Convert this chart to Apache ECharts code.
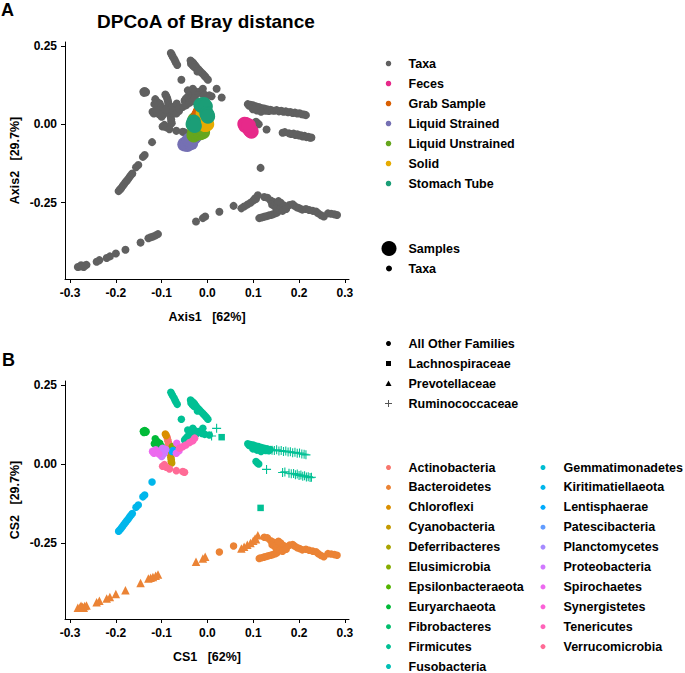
<!DOCTYPE html>
<html><head><meta charset="utf-8">
<script src="https://cdn.jsdelivr.net/npm/echarts@6/dist/echarts.min.js"></script>
<style>html,body{margin:0;padding:0;background:#fff}#chart{width:685px;height:673px}</style>
</head><body><div id="chart"></div>
<script>
// ---------------- DATA ----------------
const xTicks = [-0.3, -0.2, -0.1, 0.0, 0.1, 0.2, 0.3];
const yTicks = [-0.25, 0.0, 0.25];

const sampleTypes = ['Feces', 'Grab Sample', 'Liquid Strained', 'Liquid Unstrained', 'Solid', 'Stomach Tube'];
const familyNames = ['All Other Families', 'Lachnospiraceae', 'Prevotellaceae', 'Ruminococcaceae'];
const phylumNames = ['Actinobacteria', 'Bacteroidetes', 'Chloroflexi', 'Cyanobacteria', 'Deferribacteres',
  'Elusimicrobia', 'Epsilonbacteraeota', 'Euryarchaeota', 'Fibrobacteres', 'Firmicutes', 'Fusobacteria',
  'Gemmatimonadetes', 'Kiritimatiellaeota', 'Lentisphaerae', 'Patescibacteria', 'Planctomycetes',
  'Proteobacteria', 'Spirochaetes', 'Synergistetes', 'Tenericutes', 'Verrucomicrobia'];

// Sample scores (panel A)
const fecesPoints = [[0.081,0.001],[0.084,0.000],[0.086,-0.004],[0.088,-0.008],[0.090,-0.012],[0.092,-0.016],[0.094,-0.020],[0.096,-0.023],[0.083,-0.005],[0.090,-0.004]];
const liquidStrainedPoints = [[-0.050,-0.064],[-0.046,-0.061],[-0.042,-0.057],[-0.038,-0.053],[-0.034,-0.048],[-0.030,-0.043],[-0.027,-0.038],[-0.044,-0.065],[-0.036,-0.060],[-0.040,-0.050]];
const liquidUnstrainedPoints = [[-0.030,-0.035],[-0.025,-0.030],[-0.020,-0.028],[-0.015,-0.028],[-0.010,-0.025],[-0.028,-0.020],[-0.022,-0.015],[-0.015,-0.012],[-0.030,-0.005],[-0.026,0.005],[-0.028,0.015],[-0.022,0.022]];
const grabSamplePoints = [[-0.016,0.040],[-0.014,0.046],[-0.012,0.050],[-0.018,0.034],[-0.020,0.028],[-0.010,0.052]];
const solidPoints = [[-0.006,0.030],[-0.004,0.022],[-0.003,0.014],[-0.004,0.006],[-0.005,-0.002],[-0.008,0.010],[-0.010,0.020],[-0.001,0.000],[-0.010,0.035]];
const stomachTubePoints = [[-0.015,0.062],[-0.008,0.064],[-0.012,0.058],[-0.004,0.057],[-0.030,0.008],[-0.032,0.000],[-0.028,-0.005],[-0.002,0.035],[0.000,0.030],[0.001,0.025]];

// Taxa scores, by phylum and family
const actinobacteriaOther = [[-0.088,0.084],[-0.087,0.078],[-0.086,0.072],[-0.085,0.066],[-0.084,0.060]];
const bacteroidetesOther = [[0.026,-0.279],[0.057,-0.260],[0.124,-0.232],[0.131,-0.234],
  [0.113,-0.299],[0.118,-0.297],[0.123,-0.295],[0.128,-0.293],[0.133,-0.291],[0.138,-0.289],[0.143,-0.287],[0.148,-0.284],[0.152,-0.281],
  [0.138,-0.243],[0.143,-0.247],[0.148,-0.250],[0.141,-0.256],[0.146,-0.260],[0.152,-0.255],[0.156,-0.262],[0.150,-0.268],[0.158,-0.272],
  [0.162,-0.265],[0.166,-0.258],[0.170,-0.262],[0.160,-0.250],[0.155,-0.245],[0.164,-0.276],[0.172,-0.270],
  [0.179,-0.257],[0.186,-0.255],[0.190,-0.260],[0.196,-0.265],[0.201,-0.268],[0.207,-0.272],[0.215,-0.270],[0.222,-0.273],
  [0.230,-0.276],[0.237,-0.278],[0.242,-0.284],[0.248,-0.290],[0.254,-0.294],[0.263,-0.284],[0.270,-0.285],[0.277,-0.287],[0.283,-0.289]];
const bacteroidetesPrevotellaceae = [[-0.283,-0.455],[-0.278,-0.453],[-0.273,-0.452],[-0.268,-0.450],[-0.264,-0.448],[-0.270,-0.455],[-0.276,-0.449],
  [-0.242,-0.438],[-0.236,-0.433],[-0.220,-0.426],[-0.213,-0.421],[-0.200,-0.412],[-0.179,-0.400],[-0.146,-0.377],
  [-0.129,-0.363],[-0.124,-0.360],[-0.119,-0.358],[-0.113,-0.354],[-0.108,-0.350],
  [-0.025,-0.310],[-0.010,-0.299],[-0.005,-0.294],
  [0.074,-0.268],[0.080,-0.262],[0.087,-0.256],[0.094,-0.250],[0.100,-0.243],[0.104,-0.236],[0.106,-0.238],[0.110,-0.226]];
const chloroflexiOther = [[-0.092,0.095],[-0.090,0.090]];
const cyanobacteriaOther = [[-0.080,0.035],[-0.080,0.028],[-0.080,0.021],[-0.079,0.014],[-0.079,0.008],[-0.078,0.003]];
const elusimicrobiaOther = [[-0.077,0.055],[-0.076,0.050]];
const euryarchaeotaOther = [[-0.140,0.104],[-0.137,0.106],[-0.134,0.103],[-0.139,0.100],[-0.135,0.101],
  [-0.114,0.080],[-0.116,0.064],[-0.110,0.072],[-0.104,0.066],[-0.107,0.060],[-0.100,0.055]];
const firmicutesOther = [[-0.080,0.227],[-0.078,0.222],[-0.076,0.216],[-0.073,0.209],[-0.071,0.203],[-0.069,0.197],[-0.066,0.189],
  [-0.057,0.142],
  [-0.037,0.203],[-0.034,0.199],[-0.031,0.195],[-0.036,0.193],[-0.033,0.188],[-0.028,0.190],[-0.025,0.184],[-0.029,0.182],
  [-0.021,0.177],[-0.018,0.172],[-0.015,0.167],[-0.011,0.162],[-0.008,0.157],[-0.005,0.152],[-0.002,0.147],[0.001,0.142],[-0.022,0.168],
  [-0.050,0.076],[-0.047,0.082],[-0.043,0.088],[-0.039,0.079],[-0.036,0.087],[-0.033,0.094],[-0.030,0.100],[-0.043,0.108],
  [-0.032,0.113],[-0.027,0.105],[-0.022,0.100],[-0.017,0.104],[-0.010,0.113],[-0.012,0.097],[-0.006,0.094],[0.004,0.092],[-0.026,0.093],
  [0.088,0.064],[0.091,0.059],[0.094,0.062],[0.097,0.056],[0.100,0.060],[0.103,0.053],[0.106,0.057],[0.109,0.050],[0.112,0.055],
  [0.115,0.047],[0.118,0.052],[0.121,0.045],[0.124,0.050],[0.127,0.043],[0.130,0.048],[0.134,0.042],[0.137,0.046],
  [0.099,0.048],[0.108,0.044],[0.117,0.040],
  [0.106,0.008],[0.109,0.003],[0.112,0.000]];
const firmicutesLachnospiraceae = [[0.031,0.085],[0.116,-0.139]];
const firmicutesRuminococcaceae = [[0.020,0.113],[0.009,0.089],
  [0.141,0.044],[0.146,0.043],[0.151,0.045],[0.156,0.041],[0.161,0.043],[0.166,0.040],[0.171,0.041],[0.176,0.038],[0.181,0.039],
  [0.186,0.036],[0.191,0.037],[0.196,0.034],[0.201,0.035],[0.206,0.032],[0.211,0.031],[0.215,0.029],
  [0.129,-0.017],[0.164,-0.027],[0.169,-0.025],[0.178,-0.029],[0.183,-0.031],[0.188,-0.030],[0.192,-0.034],[0.196,-0.032],
  [0.200,-0.036],[0.204,-0.035],[0.208,-0.039],[0.212,-0.037],[0.216,-0.041],[0.220,-0.040],[0.224,-0.043],[0.227,-0.042]];
const kiritimatiellaeotaOther = [[-0.194,-0.213],[-0.191,-0.208],[-0.188,-0.203],[-0.185,-0.197],[-0.182,-0.191],[-0.179,-0.185],
  [-0.176,-0.180],[-0.173,-0.174],[-0.170,-0.168],[-0.167,-0.162],[-0.164,-0.157],[-0.156,-0.137],[-0.151,-0.130],
  [-0.141,-0.104],[-0.137,-0.098],[-0.121,-0.057]];
const lentisphaeraeOther = [[-0.077,0.040],[-0.075,0.043]];
const proteobacteriaOther = [[-0.100,0.024],[-0.097,0.030],[-0.094,0.035],[-0.104,0.040],[-0.095,0.042],[-0.098,0.050],[-0.091,0.046]];
const spirochaetesOther = [[-0.120,0.040],[-0.115,0.038],[-0.110,0.037],[-0.117,0.034],[-0.113,0.045],[-0.106,0.032],[-0.068,0.034],[-0.067,0.066],[-0.062,0.042]];
const tenericutesOther = [[-0.061,0.050],[-0.054,0.055],[-0.047,0.060],[-0.039,0.068],[-0.032,0.074],[-0.028,0.082]];
const verrucomicrobiaOther = [[-0.098,-0.007],[-0.094,-0.002],[-0.090,-0.010],[-0.083,-0.016],[-0.068,-0.021],[-0.054,-0.024],[-0.050,-0.026]];

// ---------------- BUILD ----------------
const taxaGroups = [
  ['Actinobacteria', 'All Other Families', actinobacteriaOther],
  ['Bacteroidetes', 'All Other Families', bacteroidetesOther],
  ['Bacteroidetes', 'Prevotellaceae', bacteroidetesPrevotellaceae],
  ['Chloroflexi', 'All Other Families', chloroflexiOther],
  ['Cyanobacteria', 'All Other Families', cyanobacteriaOther],
  ['Elusimicrobia', 'All Other Families', elusimicrobiaOther],
  ['Euryarchaeota', 'All Other Families', euryarchaeotaOther],
  ['Firmicutes', 'All Other Families', firmicutesOther],
  ['Firmicutes', 'Lachnospiraceae', firmicutesLachnospiraceae],
  ['Firmicutes', 'Ruminococcaceae', firmicutesRuminococcaceae],
  ['Kiritimatiellaeota', 'All Other Families', kiritimatiellaeotaOther],
  ['Lentisphaerae', 'All Other Families', lentisphaeraeOther],
  ['Proteobacteria', 'All Other Families', proteobacteriaOther],
  ['Spirochaetes', 'All Other Families', spirochaetesOther],
  ['Tenericutes', 'All Other Families', tenericutesOther],
  ['Verrucomicrobia', 'All Other Families', verrucomicrobiaOther]
];
const samplePointSets = {
  'Feces': fecesPoints, 'Liquid Strained': liquidStrainedPoints, 'Liquid Unstrained': liquidUnstrainedPoints,
  'Grab Sample': grabSamplePoints, 'Solid': solidPoints, 'Stomach Tube': stomachTubePoints
};
const sampleDrawOrder = ['Feces', 'Liquid Strained', 'Liquid Unstrained', 'Grab Sample', 'Solid', 'Stomach Tube'];

// ggplot2-like hue palette (HCL, c=100, l=65)
function hclColor(h, c, l) {
  const rad = h * Math.PI / 180;
  const U = c * Math.cos(rad), V = c * Math.sin(rad);
  const Xn = 95.047, Yn = 100.0, Zn = 108.883;
  const den = Xn + 15 * Yn + 3 * Zn;
  const un = 4 * Xn / den, vn = 9 * Yn / den;
  const Y = l > 7.999592 ? Yn * Math.pow((l + 16) / 116, 3) : Yn * l / 903.3;
  const u = U / (13 * l) + un, v = V / (13 * l) + vn;
  const X = 9 * Y * u / (4 * v);
  const Z = -X / 3 - 5 * Y + 3 * Y / v;
  const x = X / 100, y = Y / 100, z = Z / 100;
  const r = 3.240479 * x - 1.537150 * y - 0.498535 * z;
  const g = -0.969256 * x + 1.875992 * y + 0.041556 * z;
  const b = 0.055648 * x - 0.204043 * y + 1.057311 * z;
  const gam = t => { t = t <= 0.0031308 ? 12.92 * t : 1.055 * Math.pow(t, 1 / 2.4) - 0.055;
    return Math.round(Math.max(0, Math.min(1, t)) * 255); };
  return '#' + [r, g, b].map(t => gam(t).toString(16).padStart(2, '0')).join('');
}
const phylumColor = {};
phylumNames.forEach((p, i) => { phylumColor[p] = hclColor(15 + i * 360 / phylumNames.length, 100, 65); });

const sampleColor = { 'Feces': '#E7298A', 'Grab Sample': '#D95F02', 'Liquid Strained': '#7570B3',
  'Liquid Unstrained': '#66A61E', 'Solid': '#E6AB02', 'Stomach Tube': '#1B9E77' };
const taxaGrey = '#606060';
const plusPath = 'path://M4.4,0H5.6V4.4H10V5.6H5.6V10H4.4V5.6H0V4.4H4.4Z';
const familySymbol = { 'All Other Families': 'circle', 'Lachnospiraceae': 'rect', 'Prevotellaceae': 'triangle', 'Ruminococcaceae': plusPath };
const familySize = { 'All Other Families': 7.5, 'Lachnospiraceae': 6.5, 'Prevotellaceae': 8.5, 'Ruminococcaceae': 9 };

const FONT = '"Liberation Sans", Arial, Helvetica, sans-serif';

function xAxisCfg(gridIndex, name) {
  return {
    type: 'value', gridIndex, min: -0.311, max: 0.309,
    name, nameLocation: 'middle', nameGap: 31,
    nameTextStyle: { color: '#000', fontSize: 12.5, fontWeight: 'bold', fontFamily: FONT },
    axisLine: { show: true, onZero: false, lineStyle: { color: '#000', width: 1 } },
    axisTick: { show: true, length: 4, customValues: xTicks, lineStyle: { color: '#000', width: 1 } },
    axisLabel: { customValues: xTicks, formatter: v => v.toFixed(1), color: '#000', fontSize: 12, fontWeight: 'bold', fontFamily: FONT, margin: 8 },
    splitLine: { show: false }
  };
}
function yAxisCfg(gridIndex, name, min, max) {
  return {
    type: 'value', gridIndex, min, max,
    name, nameLocation: 'middle', nameGap: 44,
    nameTextStyle: { color: '#000', fontSize: 12.5, fontWeight: 'bold', fontFamily: FONT },
    axisLine: { show: true, onZero: false, lineStyle: { color: '#000', width: 1 } },
    axisTick: { show: true, length: 4, customValues: yTicks, lineStyle: { color: '#000', width: 1 } },
    axisLabel: { customValues: yTicks, formatter: v => v.toFixed(2), color: '#000', fontSize: 12, fontWeight: 'bold', fontFamily: FONT, margin: 8 },
    splitLine: { show: false }
  };
}

const series = [];
// Panel A: taxa in grey
series.push({ type: 'scatter', name: 'Taxa', xAxisIndex: 0, yAxisIndex: 0, silent: true,
  data: [].concat(...taxaGroups.map(g => g[2])), symbol: 'circle', symbolSize: 8,
  itemStyle: { color: taxaGrey, opacity: 1 } });
// Panel A: samples
sampleDrawOrder.forEach(s => series.push({ type: 'scatter', name: s, xAxisIndex: 0, yAxisIndex: 0, silent: true,
  data: samplePointSets[s], symbol: 'circle', symbolSize: 14.5, itemStyle: { color: sampleColor[s], opacity: 1 } }));
// Panel B: taxa by phylum / family
taxaGroups.forEach(([ph, fam, pts]) => series.push({ type: 'scatter', name: ph + ' ' + fam, xAxisIndex: 1, yAxisIndex: 1, silent: true,
  data: pts, symbol: familySymbol[fam], symbolSize: familySize[fam], itemStyle: { color: phylumColor[ph], opacity: 1 } }));

// ---------------- LEGENDS (graphic) ----------------
const graphics = [];
function gText(x, y, text, size) {
  graphics.push({ type: 'text', silent: true, style: { x, y, text, fill: '#000', fontSize: size || 12.5, fontWeight: 'bold', fontFamily: FONT, verticalAlign: 'middle', align: 'left' } });
}
function gSymbol(kind, cx, cy, s, color) {
  if (kind === 'circle') graphics.push({ type: 'circle', silent: true, shape: { cx, cy, r: s / 2 }, style: { fill: color } });
  else if (kind === 'rect') graphics.push({ type: 'rect', silent: true, shape: { x: cx - s / 2, y: cy - s / 2, width: s, height: s }, style: { fill: color } });
  else if (kind === 'triangle') graphics.push({ type: 'polygon', silent: true, shape: { points: [[cx, cy - s / 2], [cx + s / 2, cy + s / 2 - 0.5], [cx - s / 2, cy + s / 2 - 0.5]] }, style: { fill: color } });
  else graphics.push({ type: 'polyline', silent: true, shape: { points: [[cx - s / 2, cy], [cx + s / 2, cy]] }, style: { stroke: color, lineWidth: 1 } },
                     { type: 'polyline', silent: true, shape: { points: [[cx, cy - s / 2], [cx, cy + s / 2]] }, style: { stroke: color, lineWidth: 1 } });
}
// Panel labels
gText(1, 10, 'A', 18);
gText(2, 360, 'B', 18);
// Legend A: colour
['Taxa'].concat(sampleTypes).forEach((n, i) => {
  gSymbol('circle', 388.5, 63.5 + 20 * i, 5.5, n === 'Taxa' ? taxaGrey : sampleColor[n]);
  gText(408.5, 63.5 + 20 * i, n);
});
// Legend A: size
gSymbol('circle', 389, 248.5, 15, '#000'); gText(408.5, 248.5, 'Samples');
gSymbol('circle', 389, 268.5, 6, '#000'); gText(408.5, 268.5, 'Taxa');
// Legend B: shape
const familyLegendKind = { 'All Other Families': 'circle', 'Lachnospiraceae': 'rect', 'Prevotellaceae': 'triangle', 'Ruminococcaceae': 'plus' };
const familyLegendSize = { 'All Other Families': 5, 'Lachnospiraceae': 5, 'Prevotellaceae': 6, 'Ruminococcaceae': 7 };
familyNames.forEach((f, i) => {
  gSymbol(familyLegendKind[f], 388.5, 343.5 + 20 * i, familyLegendSize[f], f === 'Ruminococcaceae' ? '#555' : '#000');
  gText(408.5, 343.5 + 20 * i, f);
});
// Legend B: colour (two columns)
phylumNames.forEach((p, i) => {
  const col = i < 11 ? 0 : 1, row = i < 11 ? i : i - 11;
  const sx = col === 0 ? 388.5 : 543, tx = col === 0 ? 408.5 : 563.5;
  gSymbol('circle', sx, 467.5 + 19.9 * row, 5, phylumColor[p]);
  gText(tx, 467.5 + 19.9 * row, p);
});

const option = {
  animation: false,
  backgroundColor: '#fff',
  textStyle: { fontFamily: FONT },
  title: { text: 'DPCoA of Bray distance', left: 97, top: 12, padding: 0,
    textStyle: { color: '#000', fontSize: 19, fontWeight: 'bold', fontFamily: FONT } },
  grid: [
    { left: 65, top: 42, width: 284, height: 237 },
    { left: 65, top: 381, width: 284, height: 238 }
  ],
  xAxis: [xAxisCfg(0, 'Axis1   [62%]'), xAxisCfg(1, 'CS1   [62%]')],
  yAxis: [yAxisCfg(0, 'Axis2   [29.7%]', -0.493, 0.262), yAxisCfg(1, 'CS2   [29.7%]', -0.491, 0.263)],
  series,
  graphic: graphics
};
const chart = echarts.init(document.getElementById('chart'), null, { renderer: 'svg' });
chart.setOption(option);
</script></body></html>
